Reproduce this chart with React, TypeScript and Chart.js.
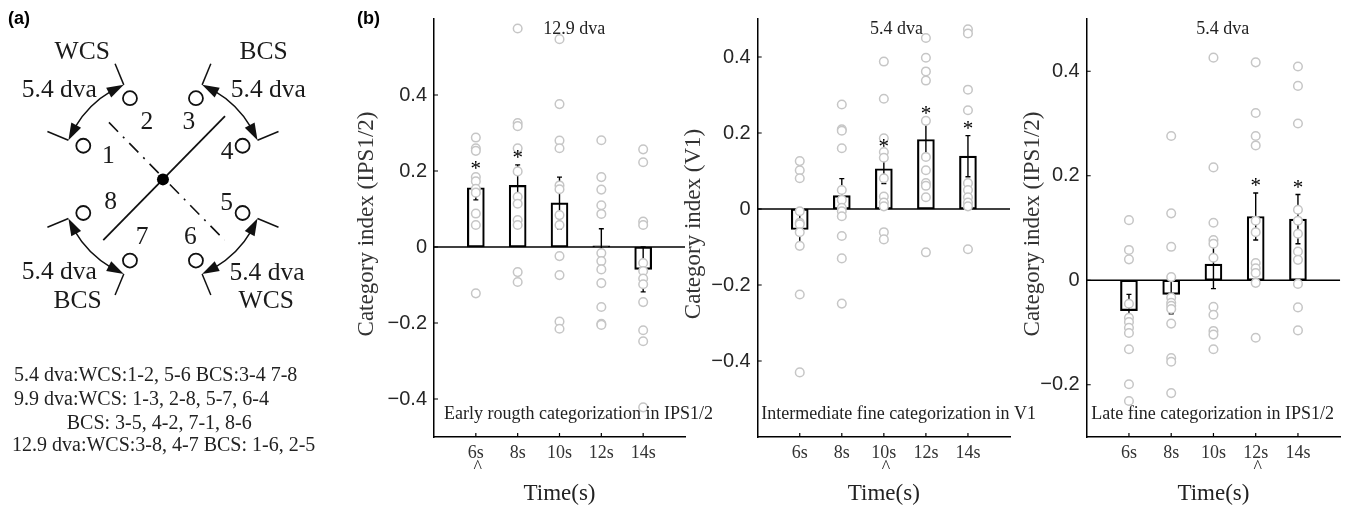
import React, { useEffect, useRef } from 'react';
import { Chart, registerables } from 'chart.js';
Chart.register(...registerables);

// ---------------- DATA ----------------
const timeLabels = ['6s', '8s', '10s', '12s', '14s'];

// Panel b-1: Early rough categorization in IPS1/2 (12.9 dva)
const earlyMeans = [0.156, 0.162, 0.116, 0.003, -0.059];
const earlySem = [0.032, 0.054, 0.068, 0.045, 0.059];
const earlySig = [true, true, false, false, false];
const earlyPoints = [
  [0.288, 0.26, 0.253, 0.184, 0.173, 0.153, 0.143, 0.088, 0.058, -0.122],
  [0.575, 0.326, 0.318, 0.26, 0.199, 0.132, 0.114, 0.071, 0.058, -0.066, -0.092],
  [0.547, 0.376, 0.28, 0.26, 0.162, 0.152, 0.084, 0.058, -0.024, -0.074, -0.196, -0.215],
  [0.281, 0.184, 0.151, 0.11, 0.087, -0.016, -0.037, -0.059, -0.095, -0.158, -0.202, -0.205],
  [0.257, 0.223, 0.067, 0.058, -0.042, -0.063, -0.083, -0.098, -0.145, -0.219, -0.248, -0.422],
];
const earlyYTicks = [-0.4, -0.2, 0, 0.2, 0.4];

// Panel b-2: Intermediate fine categorization in V1 (5.4 dva)
const interMeans = [-0.054, 0.035, 0.106, 0.183, 0.139];
const interSem = [0.043, 0.045, 0.039, 0.049, 0.054];
const interSig = [false, false, true, true, true];
const interPoints = [
  [0.126, 0.102, 0.081, -0.006, -0.036, -0.04, -0.061, -0.097, -0.225, -0.43],
  [0.275, 0.21, 0.206, 0.16, 0.05, 0.024, 0.003, -0.006, -0.019, -0.071, -0.13, -0.249],
  [0.388, 0.29, 0.186, 0.15, 0.135, 0.081, 0.033, 0.017, 0.007, -0.061, -0.08],
  [0.45, 0.398, 0.362, 0.338, 0.232, 0.137, 0.102, 0.068, 0.061, 0.031, -0.114],
  [0.473, 0.462, 0.314, 0.26, 0.068, 0.05, 0.031, 0.017, 0.007, -0.106],
];
const interYTicks = [-0.4, -0.2, 0, 0.2, 0.4];

// Panel b-3: Late fine categorization in IPS1/2 (5.4 dva)
const lateMeans = [-0.058, -0.027, 0.031, 0.122, 0.117];
const lateSem = [0.031, 0.037, 0.047, 0.045, 0.047];
const lateSig = [false, false, false, true, true];
const latePoints = [
  [0.115, 0.058, 0.04, -0.045, -0.072, -0.08, -0.091, -0.101, -0.132, -0.199, -0.231],
  [0.276, 0.128, 0.064, 0.006, -0.033, -0.043, -0.049, -0.055, -0.083, -0.149, -0.156, -0.216],
  [0.426, 0.216, 0.11, 0.077, 0.07, 0.043, -0.051, -0.066, -0.097, -0.104, -0.132],
  [0.417, 0.32, 0.276, 0.258, 0.114, 0.092, 0.033, 0.023, 0.014, -0.005, -0.11],
  [0.409, 0.372, 0.3, 0.135, 0.114, 0.089, 0.055, 0.039, -0.007, -0.052, -0.096],
];
const lateYTicks = [-0.2, 0, 0.2, 0.4];

// Panel a: diagram
const stimAngles = [157.5, 112.5, 67.5, 22.5, -22.5, -67.5, -112.5, -157.5];
const stimRadius = 91;
const stimNumbers = ['1', '2', '3', '4', '5', '6', '7', '8'];
const numberPosX = [-57.7, -16.9, 27.3, 67.6, 67.3, 29, -21.9, -55.2];
const numberPosY = [23.4, 59.5, 59.5, 27.7, -25, -60.3, -60.3, -24.1];
const arcPairs = [[112.5, 157.5], [22.5, 67.5], [-67.5, -22.5], [-157.5, -112.5]];
const arcRadius = 108;
const arcTickOuter = 132;
const solidLine = [{ x: -63, y: -63 }, { x: 65.5, y: 65.5 }];
const dashLine = [{ x: -57, y: 59 }, { x: 65, y: -63 }];
const diagramTexts = ['WCS', '5.4 dva', 'BCS', '5.4 dva', '5.4 dva', 'BCS', '5.4 dva', 'WCS'];
const diagramTextX = [-85.2, -109.4, 106.3, 111.3, -109.4, -90.2, 109.8, 109];
const diagramTextY = [131.4, 92.7, 131.4, 92.7, -96.6, -125.8, -97.8, -125.8];
const pairingLines = [
  '5.4 dva:WCS:1-2, 5-6 BCS:3-4 7-8',
  '9.9 dva:WCS: 1-3, 2-8, 5-7, 6-4',
  'BCS: 3-5, 4-2, 7-1, 8-6',
  '12.9 dva:WCS:3-8, 4-7 BCS: 1-6, 2-5',
];

// ---------------- STYLE / LAYOUT ----------------
const H = 508;
const SERIF = '"Liberation Serif", "Times New Roman", serif';
const SANS = '"Liberation Sans", Arial, sans-serif';
const TXT = '#222';

type PanelCfg = {
  left: number; width: number; areaLeft: number; areaRight: number;
  yMin: number; yMax: number; yTicks: number[];
  means: number[]; sem: number[]; sig: boolean[]; points: number[][];
  caretIdx: number; dva: string; dvaX: number; bottomText: string; bottomDx: number;
  yTitle: string; yTitleOff: number; showB: boolean;
};

const panels: PanelCfg[] = [
  {
    left: 340, width: 380, areaLeft: 434, areaRight: 685, yMin: -0.5, yMax: 0.6, yTicks: earlyYTicks,
    means: earlyMeans, sem: earlySem, sig: earlySig, points: earlyPoints, caretIdx: 0,
    dva: '12.9 dva', dvaX: 3.35, bottomText: 'Early rougth categorization in IPS1/2', bottomDx: 10,
    yTitle: 'Category index (IPS1/2)', yTitleOff: 67, showB: true,
  },
  {
    left: 675, width: 370, areaLeft: 757.7, areaRight: 1010, yMin: -0.6, yMax: 0.5, yTicks: interYTicks,
    means: interMeans, sem: interSem, sig: interSig, points: interPoints, caretIdx: 2,
    dva: '5.4 dva', dvaX: 3.3, bottomText: 'Intermediate fine categorization in V1', bottomDx: 3.5,
    yTitle: 'Category index (V1)', yTitleOff: 64, showB: false,
  },
  {
    left: 1005, width: 341, areaLeft: 1086.7, areaRight: 1340.5, yMin: -0.3, yMax: 0.5, yTicks: lateYTicks,
    means: lateMeans, sem: lateSem, sig: lateSig, points: latePoints, caretIdx: 3,
    dva: '5.4 dva', dvaX: 3.22, bottomText: 'Late fine categorization in IPS1/2', bottomDx: 4.5,
    yTitle: 'Category index (IPS1/2)', yTitleOff: 53.7, showB: false,
  },
];

const fmtTick = (v: number) => (v === 0 ? '0' : (v < 0 ? '\u2212' : '') + String(Math.abs(v)));

function makePanelPlugin(cfg: PanelCfg) {
  return {
    id: 'panelDeco',
    afterDatasetDraw(chart: any, args: any) {
      if (args.index !== 1) return;
      const { ctx, scales: { x, y } } = chart;
      ctx.save();
      ctx.strokeStyle = '#000';
      ctx.lineWidth = 1.4;
      cfg.means.forEach((m, i) => {
        const xp = x.getPixelForValue(i + 1);
        const y1 = y.getPixelForValue(m - cfg.sem[i]);
        const y2 = y.getPixelForValue(m + cfg.sem[i]);
        ctx.beginPath();
        ctx.moveTo(xp, y1); ctx.lineTo(xp, y2);
        ctx.moveTo(xp - 2.5, y1); ctx.lineTo(xp + 2.5, y1);
        ctx.moveTo(xp - 2.5, y2); ctx.lineTo(xp + 2.5, y2);
        ctx.stroke();
      });
      ctx.restore();
    },
    afterDraw(chart: any) {
      const { ctx, chartArea: a, scales: { x, y } } = chart;
      ctx.save();
      // inward tick marks
      ctx.strokeStyle = '#000';
      ctx.lineWidth = 1.2;
      ctx.beginPath();
      cfg.yTicks.forEach((v) => {
        const yp = y.getPixelForValue(v);
        ctx.moveTo(a.left, yp); ctx.lineTo(a.left + 4, yp);
      });
      timeLabels.forEach((_, i) => {
        const xp = x.getPixelForValue(i + 1);
        ctx.moveTo(xp, a.bottom); ctx.lineTo(xp, a.bottom - 4);
      });
      ctx.stroke();

      ctx.fillStyle = TXT;
      // dva label
      ctx.font = `18px ${SERIF}`;
      ctx.textAlign = 'center';
      ctx.textBaseline = 'middle';
      ctx.fillText(cfg.dva, x.getPixelForValue(cfg.dvaX), a.top + 9.8);
      // bottom description
      ctx.textAlign = 'left';
      ctx.fillText(cfg.bottomText, a.left + cfg.bottomDx, a.bottom - 23);
      // asterisks
      ctx.fillStyle = '#000';
      ctx.font = `21px ${SERIF}`;
      ctx.textAlign = 'center';
      ctx.textBaseline = 'alphabetic';
      cfg.sig.forEach((s, i) => {
        if (!s) return;
        const xp = x.getPixelForValue(i + 1);
        const yc = y.getPixelForValue(cfg.means[i] + cfg.sem[i]) - 11;
        ctx.fillText('*', xp, yc + 10.5);
      });
      // caret under peak
      ctx.fillStyle = TXT;
      ctx.font = `18px ${SERIF}`;
      ctx.fillText('^', x.getPixelForValue(cfg.caretIdx + 1) + 2, a.bottom + 27 + 8.8);
      // x title
      ctx.font = `23px ${SERIF}`;
      ctx.textBaseline = 'middle';
      ctx.fillText('Time(s)', (a.left + a.right) / 2, a.bottom + 57);
      // y title
      ctx.save();
      ctx.translate(a.left - cfg.yTitleOff, (a.top + a.bottom) / 2 - 4);
      ctx.rotate(-Math.PI / 2);
      ctx.fillStyle = '#333';
      ctx.fillText(cfg.yTitle, 0, 0);
      ctx.restore();
      // panel letter
      if (cfg.showB) {
        ctx.fillStyle = '#000';
        ctx.font = `bold 18px ${SANS}`;
        ctx.textAlign = 'left';
        ctx.textBaseline = 'middle';
        ctx.fillText('(b)', 357 - cfg.left, 19);
      }
      ctx.restore();
    },
  };
}

function BarPanel({ cfg }: { cfg: PanelCfg }) {
  const ref = useRef<HTMLCanvasElement>(null);
  useEffect(() => {
    const pts = cfg.points.flatMap((arr, i) => arr.map((v) => ({ x: i + 1, y: v })));
    const bars = cfg.means.map((m, i) => ({ x: i + 1, y: m }));
    const zero = [{ x: 0, y: 0 }, { x: timeLabels.length + 1, y: 0 }];
    const chart = new Chart(ref.current as HTMLCanvasElement, {
      type: 'bar',
      data: {
        datasets: [
          {
            type: 'scatter', data: pts, order: 0,
            pointRadius: 4.3, pointBorderWidth: 1.5, borderColor: '#c6c6c6', backgroundColor: '#ffffff',
            pointBackgroundColor: '#ffffff', pointBorderColor: '#c6c6c6',
          } as any,
          {
            type: 'bar', data: bars, order: 1, barThickness: 17, borderColor: '#000', borderWidth: 1.5,
            backgroundColor: 'rgba(0,0,0,0)', borderSkipped: false,
          } as any,
          {
            type: 'line', data: zero, order: 2, borderColor: '#000', borderWidth: 1.5, pointRadius: 0,
          } as any,
        ],
      },
      options: {
        animation: false,
        responsive: false,
        devicePixelRatio: 1,
        layout: { padding: { left: 0, top: 13, bottom: 0, right: cfg.left + cfg.width - cfg.areaRight } },
        plugins: { legend: { display: false }, tooltip: { enabled: false } },
        scales: {
          x: {
            type: 'linear', min: 0, max: timeLabels.length + 1, offset: false,
            afterBuildTicks: (s: any) => { s.ticks = timeLabels.map((_, i) => ({ value: i + 1 })); },
            afterFit: (s: any) => { s.height = H - 437; },
            ticks: {
              callback: (_v: any, i: number) => timeLabels[i], autoSkip: false, maxRotation: 0,
              font: { family: SERIF, size: 18 }, color: '#333', padding: 5,
            },
            grid: { display: false, drawTicks: false },
            border: { display: true, color: '#000', width: 1.5 },
          },
          y: {
            type: 'linear', min: cfg.yMin, max: cfg.yMax,
            afterBuildTicks: (s: any) => { s.ticks = cfg.yTicks.map((v) => ({ value: v })); },
            afterFit: (s: any) => { s.width = cfg.areaLeft - cfg.left; },
            ticks: {
              callback: (v: any) => fmtTick(Number(v)),
              font: { family: SANS, size: 20 }, color: '#262626', padding: 7,
            },
            grid: { display: false, drawTicks: false },
            border: { display: true, color: '#000', width: 1.5 },
          },
        },
      } as any,
      plugins: [makePanelPlugin(cfg)],
    });
    return () => chart.destroy();
  }, [cfg]);
  return (
    <canvas
      ref={ref}
      width={cfg.width}
      height={H}
      style={{ position: 'absolute', left: cfg.left, top: 0, width: cfg.width, height: H }}
    />
  );
}

// ---------------- PANEL A ----------------
const A_W = 335;
const A_CX = 162.7;
const A_CY = 176.7;

const diagramPlugin = {
  id: 'diagram',
  beforeDatasetsDraw(chart: any) {
    const { ctx, scales: { x, y } } = chart;
    const cxp = x.getPixelForValue(0);
    const cyp = y.getPixelForValue(0);
    const unit = x.getPixelForValue(1) - cxp;
    ctx.save();
    ctx.strokeStyle = '#111';
    ctx.fillStyle = '#111';
    ctx.lineWidth = 1.5;
    arcPairs.forEach(([a1, a2]) => {
      const r = arcRadius * unit;
      const t1 = (a1 * Math.PI) / 180;
      const t2 = (a2 * Math.PI) / 180;
      const headLen = 17;
      const headHalf = 5.5;
      const dt = headLen / r;
      ctx.beginPath();
      ctx.arc(cxp, cyp, r, -(t2 - dt * 0.8), -(t1 + dt * 0.8), false);
      ctx.stroke();
      ([[t2, 1], [t1, -1]] as number[][]).forEach(([t, s]) => {
        const tipX = cxp + r * Math.cos(t);
        const tipY = cyp - r * Math.sin(t);
        const bt = t - s * dt;
        const bx = cxp + r * Math.cos(bt);
        const by = cyp - r * Math.sin(bt);
        const dx = tipX - bx;
        const dy = tipY - by;
        const len = Math.hypot(dx, dy);
        const nx = -dy / len;
        const ny = dx / len;
        ctx.beginPath();
        ctx.moveTo(tipX, tipY);
        ctx.lineTo(bx + nx * headHalf, by + ny * headHalf);
        ctx.lineTo(bx - nx * headHalf, by - ny * headHalf);
        ctx.closePath();
        ctx.fill();
      });
      [t1, t2].forEach((t) => {
        ctx.beginPath();
        ctx.moveTo(cxp + r * Math.cos(t), cyp - r * Math.sin(t));
        ctx.lineTo(cxp + arcTickOuter * unit * Math.cos(t), cyp - arcTickOuter * unit * Math.sin(t));
        ctx.stroke();
      });
    });
    ctx.restore();
  },
  afterDraw(chart: any) {
    const { ctx, scales: { x, y } } = chart;
    ctx.save();
    ctx.fillStyle = '#1a1a1a';
    ctx.textAlign = 'center';
    ctx.textBaseline = 'middle';
    ctx.font = `25.5px ${SERIF}`;
    stimNumbers.forEach((n, i) => {
      ctx.fillText(n, x.getPixelForValue(numberPosX[i]), y.getPixelForValue(numberPosY[i]));
    });
    diagramTexts.forEach((t, i) => {
      ctx.fillText(t, x.getPixelForValue(diagramTextX[i]), y.getPixelForValue(diagramTextY[i]));
    });
    ctx.font = `20px ${SERIF}`;
    ctx.textAlign = 'left';
    ctx.fillStyle = TXT;
    const lx = [14, 14, 66.7, 12];
    const ly = [375.7, 399.7, 423.3, 445.5];
    pairingLines.forEach((t, i) => ctx.fillText(t, lx[i], ly[i]));
    ctx.fillStyle = '#000';
    ctx.font = `bold 18px ${SANS}`;
    ctx.fillText('(a)', 8, 19);
    ctx.restore();
  },
};

function PanelA() {
  const ref = useRef<HTMLCanvasElement>(null);
  useEffect(() => {
    const stim = stimAngles.map((a) => ({
      x: stimRadius * Math.cos((a * Math.PI) / 180),
      y: stimRadius * Math.sin((a * Math.PI) / 180),
    }));
    const chart = new Chart(ref.current as HTMLCanvasElement, {
      type: 'scatter',
      data: {
        datasets: [
          { data: stim, pointRadius: 7, pointBorderWidth: 1.8, pointBorderColor: '#111', pointBackgroundColor: '#fff', order: 0 } as any,
          { data: [{ x: 0, y: 0 }], pointRadius: 6, pointBorderWidth: 0, pointBackgroundColor: '#000', pointBorderColor: '#000', order: 1 } as any,
          { type: 'line', data: solidLine, borderColor: '#111', borderWidth: 1.8, pointRadius: 0, order: 2 } as any,
          { type: 'line', data: dashLine, borderColor: '#111', borderWidth: 1.6, borderDash: [13, 7, 2, 7], pointRadius: 0, order: 3 } as any,
        ],
      },
      options: {
        animation: false,
        responsive: false,
        devicePixelRatio: 1,
        layout: { padding: 0 },
        plugins: { legend: { display: false }, tooltip: { enabled: false } },
        scales: {
          x: { type: 'linear', display: false, min: -A_CX, max: A_W - A_CX },
          y: { type: 'linear', display: false, min: -(H - A_CY), max: A_CY },
        },
      } as any,
      plugins: [diagramPlugin],
    });
    return () => chart.destroy();
  }, []);
  return (
    <canvas ref={ref} width={A_W} height={H} style={{ position: 'absolute', left: 0, top: 0, width: A_W, height: H }} />
  );
}

export default function App() {
  return (
    <div style={{ position: 'fixed', left: 0, top: 0, width: 1346, height: H, background: '#fff', overflow: 'hidden' }}>
      <PanelA />
      {panels.map((p, i) => (
        <BarPanel key={i} cfg={p} />
      ))}
    </div>
  );
}
